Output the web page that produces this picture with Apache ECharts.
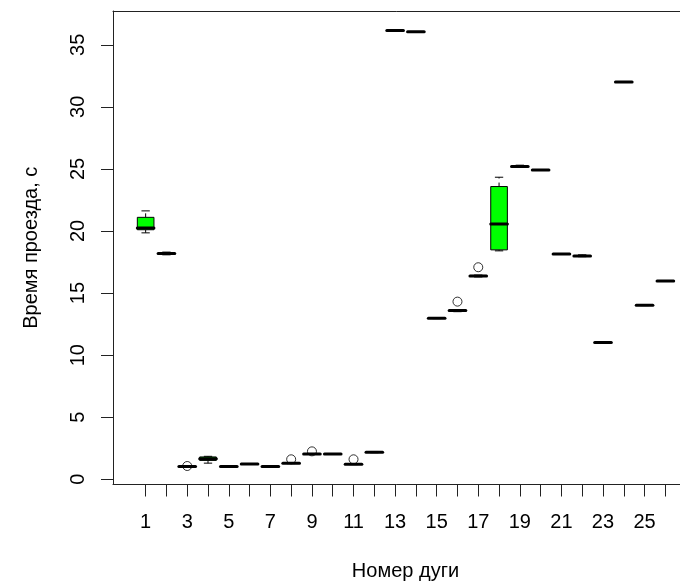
<!DOCTYPE html>
<html>
<head>
<meta charset="utf-8">
<script src="https://cdn.jsdelivr.net/npm/echarts@6/dist/echarts.min.js"></script>
<style>html,body{margin:0;padding:0;background:#fff}#c{width:680px;height:583px}</style>
</head>
<body>
<div id="c"></div>
<script>
// Arc numbers (categories)
const arcs = [1,2,3,4,5,6,7,8,9,10,11,12,13,14,15,16,17,18,19,20,21,22,23,24,25,26];
// Five-number summaries per arc
const mins    = [19.85,18.08,0.97,1.30,0.98,1.20,0.98,1.26,2.00,2.01,1.18,2.14,36.12,36.01,12.94,13.50,16.30,18.40,25.14,24.89,18.12,17.93,10.98,31.98,13.99,15.95];
const q1s     = [20.10,18.15,1.00,1.52,1.00,1.21,1.00,1.27,2.02,2.02,1.19,2.16,36.13,36.02,12.95,13.55,16.34,18.48,25.16,24.90,18.13,17.96,10.99,31.99,14.00,15.96];
const medians = [20.25,18.19,1.02,1.66,1.02,1.23,1.02,1.29,2.04,2.04,1.21,2.18,36.15,36.04,12.97,13.59,16.38,20.57,25.19,24.92,18.15,17.99,11.01,32.01,14.02,15.98];
const q3s     = [21.10,18.23,1.04,1.80,1.04,1.25,1.04,1.31,2.06,2.06,1.23,2.20,36.17,36.06,12.99,13.62,16.42,23.58,25.22,24.94,18.17,18.02,11.03,32.03,14.04,16.00];
const maxs    = [21.62,18.30,1.06,1.85,1.06,1.26,1.06,1.32,2.08,2.07,1.24,2.24,36.18,36.07,13.00,13.66,16.45,24.33,25.30,24.95,18.18,18.08,11.04,32.04,14.05,16.01];
// Outliers
const outlierArcs = [3, 8, 9, 11, 16, 17];
const outlierVals = [1.07, 1.61, 2.25, 1.61, 14.31, 17.08];
// Tick labels
const xTicks = arcs;
const xLabels = [1,3,5,7,9,11,13,15,17,19,21,23,25];
const yTicks = [0,5,10,15,20,25,30,35];

const boxData = arcs.map((a, i) => [a, mins[i], q1s[i], medians[i], q3s[i], maxs[i]]);
const outData = outlierArcs.map((a, i) => [a, outlierVals[i]]);

const FONT = '"Liberation Sans", Arial, sans-serif';
const AXIS_COLOR = '#222';

const chart = echarts.init(document.getElementById('c'), null, {renderer: 'canvas'});
chart.setOption({
  animation: false,
  backgroundColor: '#fff',
  grid: {left: 113, top: 11, width: 585, height: 473.5, containLabel: false, outerBoundsMode: 'none'},
  xAxis: [{
    type: 'value', min: -0.57, max: 27.57, position: 'bottom',
    splitLine: {show: false},
    axisLine: {show: true, onZero: false, lineStyle: {color: AXIS_COLOR, width: 1}},
    axisTick: {show: true, length: 12, customValues: xTicks, lineStyle: {color: AXIS_COLOR}},
    axisLabel: {customValues: xLabels, margin: 28, fontSize: 20, fontFamily: FONT, color: '#000'},
    name: 'Номер дуги', nameLocation: 'middle', nameGap: 77,
    nameTextStyle: {fontSize: 20, fontFamily: FONT, color: '#000'}
  }, {
    type: 'value', min: -0.57, max: 27.57, position: 'top',
    splitLine: {show: false},
    axisLine: {show: true, onZero: false, lineStyle: {color: AXIS_COLOR, width: 1}},
    axisTick: {show: false}, axisLabel: {show: false}
  }],
  yAxis: [{
    type: 'value', min: -0.42, max: 37.72, position: 'left',
    splitLine: {show: false},
    axisLine: {show: true, onZero: false, lineStyle: {color: AXIS_COLOR, width: 1}},
    axisTick: {show: true, length: 12, customValues: yTicks, lineStyle: {color: AXIS_COLOR}},
    axisLabel: {customValues: yTicks, rotate: 90, margin: 25, fontSize: 20, fontFamily: FONT, color: '#000'},
    name: 'Время проезда, с', nameLocation: 'middle', nameGap: 72, nameRotate: 90,
    nameTextStyle: {fontSize: 20, fontFamily: FONT, color: '#000'}
  }],
  series: [{
    type: 'custom',
    xAxisIndex: 0, yAxisIndex: 0,
    data: boxData,
    encode: {x: 0, y: [1, 2, 3, 4, 5]},
    renderItem: function (params, api) {
      const x = api.value(0);
      const pMin = api.coord([x, api.value(1)]);
      const pQ1 = api.coord([x, api.value(2)]);
      const pMd = api.coord([x, api.value(3)]);
      const pQ3 = api.coord([x, api.value(4)]);
      const pMax = api.coord([x, api.value(5)]);
      const halfW = api.size([0.8, 0])[0] / 2;
      const capW = halfW / 2;
      const cx = pMd[0];
      const ls = {stroke: '#000', lineWidth: 1};
      return {
        type: 'group',
        children: [
          {type: 'line', shape: {x1: cx, y1: pQ3[1], x2: cx, y2: pMax[1]}, style: Object.assign({lineDash: [4, 4]}, ls)},
          {type: 'line', shape: {x1: cx, y1: pQ1[1], x2: cx, y2: pMin[1]}, style: Object.assign({lineDash: [4, 4]}, ls)},
          {type: 'line', shape: {x1: cx - capW, y1: pMax[1], x2: cx + capW, y2: pMax[1]}, style: ls},
          {type: 'line', shape: {x1: cx - capW, y1: pMin[1], x2: cx + capW, y2: pMin[1]}, style: ls},
          {type: 'rect', shape: {x: cx - halfW, y: pQ3[1], width: 2 * halfW, height: Math.max(pQ1[1] - pQ3[1], 0.5)},
           style: {fill: '#00ff00', stroke: '#000', lineWidth: 1}},
          {type: 'line', shape: {x1: cx - halfW, y1: pMd[1], x2: cx + halfW, y2: pMd[1]},
           style: {stroke: '#000', lineWidth: 3, lineCap: 'round'}}
        ]
      };
    }
  }, {
    type: 'scatter',
    xAxisIndex: 0, yAxisIndex: 0,
    data: outData,
    symbol: 'circle',
    symbolSize: 9,
    itemStyle: {color: 'rgba(0,0,0,0)', borderColor: '#000', borderWidth: 1},
    z: 5
  }]
});
</script>
</body>
</html>
